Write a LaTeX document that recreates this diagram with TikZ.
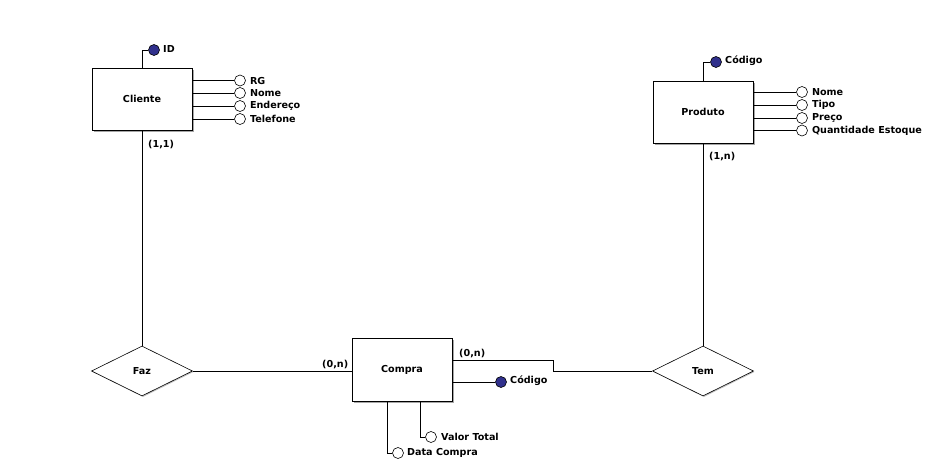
\documentclass[tikz,border=0pt]{standalone}
\usepackage{fontspec}
\setmainfont{DejaVu Sans}
\usetikzlibrary{shapes.geometric,shadows}
\definecolor{keyblue}{RGB}{48,48,140}
\tikzset{
  every node/.style={font=\fontsize{9.6}{11}\selectfont\bfseries},
  entity/.style={draw, fill=white, line width=0.8pt, minimum width=100pt, minimum height=62pt, inner sep=0pt,
    drop shadow={shadow xshift=1.5pt, shadow yshift=-1.5pt, fill=gray!70, opacity=1}},
  relation/.style={draw, fill=white, diamond, line width=0.6pt, minimum width=101pt, minimum height=50pt, inner sep=0pt,
    drop shadow={shadow xshift=1pt, shadow yshift=-1pt, fill=gray!50, opacity=1}},
  attr/.style={draw, circle, fill=white, line width=0.6pt, minimum size=11pt, inner sep=0pt},
  keyattr/.style={draw, circle, fill=keyblue, line width=0.6pt, minimum size=11pt, inner sep=0pt},
  lbl/.style={anchor=west, inner sep=0pt},
  conn/.style={line width=0.8pt}
}
\begin{document}
\begin{tikzpicture}[x=1pt,y=-1pt]
\useasboundingbox (0,0) rectangle (935,467);
% entities
\node[entity] (cli) at (142,99) {Cliente};
\node[entity] (prod) at (703,112) {Produto};
\node[entity,minimum height=63pt] (comp) at (402,369.5) {Compra};
% relations
\node[relation] (faz) at (142,371) {Faz};
\node[relation] (tem) at (703,371) {Tem};

% Cliente attributes
\node[keyattr] (cid) at (154,50) {};
\node[lbl] at (163,49) {ID};
\draw[conn] (cli.north) |- (cid);
\node[attr] (crg) at (240,80.5) {};
\node[attr] (cnome) at (240,93) {};
\node[attr] (cend) at (240,106) {};
\node[attr] (ctel) at (240,119) {};
\foreach \a/\t in {crg/RG, cnome/Nome, cend/Endereço, ctel/Telefone}{
  \draw[conn] (cli.east |- \a) -- (\a);
  \node[lbl] at ([xshift=4pt]\a.east) {\t};
}
\node[lbl] at (148,145) {(1,1)};

% Produto attributes
\node[keyattr] (pid) at (716,62) {};
\node[lbl] at (725,61) {Código};
\draw[conn] (prod.north) |- (pid);
\node[attr] (pnome) at (802,92) {};
\node[attr] (ptipo) at (802,105) {};
\node[attr] (ppreco) at (802,118) {};
\node[attr] (pqtd) at (802,130.5) {};
\foreach \a/\t in {pnome/Nome, ptipo/Tipo, ppreco/Preço, pqtd/Quantidade Estoque}{
  \draw[conn] (prod.east |- \a) -- (\a);
  \node[lbl] at ([xshift=4pt]\a.east) {\t};
}
\node[lbl] at (709,157) {(1,n)};

% Compra attributes
\node[keyattr] (kid) at (501,382) {};
\node[lbl] at (510,381) {Código};
\draw[conn] (comp.east |- kid) -- (kid);
\node[attr] (vt) at (431,437) {};
\node[lbl] at (441,436.5) {Valor Total};
\draw[conn] ([xshift=18pt]comp.south) |- (vt);
\node[attr] (dc) at (398,453) {};
\node[lbl] at (407,453) {Data Compra};
\draw[conn] ([xshift=-15pt]comp.south) |- (dc);

% relationships
\draw[conn] (cli.south) -- (faz.north);
\draw[conn] (faz.east) -- (faz.east -| comp.west);
\node[lbl] at (322,365) {(0,n)};
\coordinate (j1) at (553,360);
\draw[conn] (comp.east |- j1) -- (j1) |- (tem.west);
\node[lbl] at (459,354) {(0,n)};
\draw[conn] (prod.south) -- (tem.north);
\end{tikzpicture}
\end{document}
